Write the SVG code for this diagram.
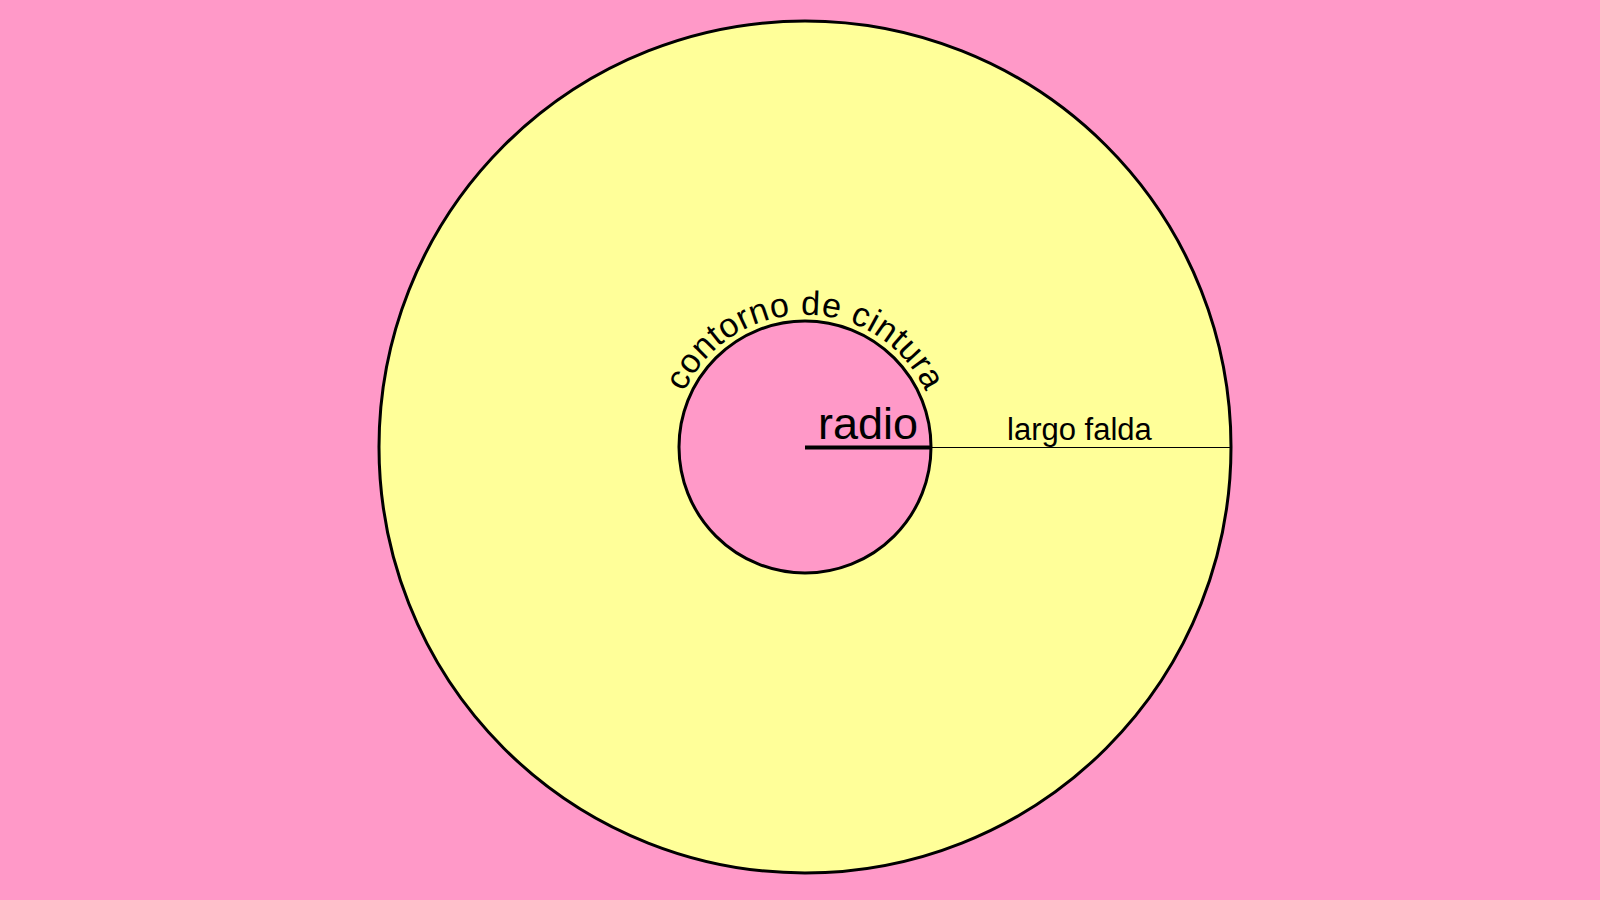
<svg xmlns="http://www.w3.org/2000/svg" width="1600" height="900" viewBox="0 0 1600 900">
<style>
.lbl{font-family:"Liberation Sans",Arial,sans-serif;fill:#000}
</style>
<defs>
<path id="waistArc" d="M 684.5 391.5 A 133 133 0 0 1 925.5 391.5" fill="none"/>
</defs>
<rect x="0" y="0" width="1600" height="900" fill="#FF99C8"/>
<g id="skirt">
<circle cx="805" cy="447" r="426" fill="#FFFF99" stroke="#000" stroke-width="3"/>
</g>
<g id="waist">
<circle cx="805" cy="447" r="126" fill="#FF99C8" stroke="#000" stroke-width="3"/>
<text class="lbl" font-size="34" letter-spacing="0.6" text-anchor="middle"><textPath href="#waistArc" startOffset="50%">contorno de cintura</textPath></text>
</g>
<g id="connectors">
<line x1="805" y1="447.5" x2="931" y2="447.5" stroke="#000" stroke-width="4"/>
<line x1="931" y1="447.5" x2="1231" y2="447.5" stroke="#000" stroke-width="1"/>
</g>
<g id="radio">
<text class="lbl" x="818" y="439" font-size="45">radio</text>
</g>
<g id="largo">
<text class="lbl" x="1007" y="440" font-size="31">largo falda</text>
</g>
</svg>
